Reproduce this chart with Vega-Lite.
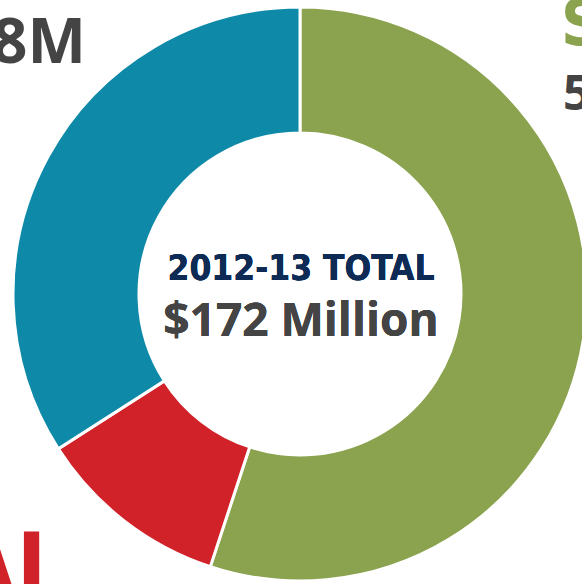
{
  "$schema": "https://vega.github.io/schema/vega-lite/v6.json",
  "width": 564,
  "height": 576,
  "autosize": {"type": "none"},
  "padding": {"left": 18, "top": 6, "right": 0, "bottom": 2},
  "background": "white",
  "view": {"stroke": null},
  "data": {
    "values": [
      {"source": "STATE", "amount": 94.7, "valueLabel": "55%"},
      {"source": "FEDERAL", "amount": 18.7, "valueLabel": "$19M"},
      {"source": "LOCAL", "amount": 58.6, "valueLabel": "$58M"}
    ]
  },
  "transform": [{"window": [{"op": "row_number", "as": "rank"}]}],
  "layer": [
    {
      "mark": {"type": "arc", "radius": 287, "innerRadius": 161, "stroke": "white", "strokeWidth": 3},
      "encoding": {
        "theta": {"field": "amount", "type": "quantitative", "stack": true},
        "order": {"field": "rank", "type": "quantitative"},
        "color": {
          "field": "source",
          "type": "nominal",
          "scale": {"domain": ["STATE", "FEDERAL", "LOCAL"], "range": ["#8BA34E", "#D12229", "#0E8AA8"]},
          "legend": null
        }
      }
    },
    {
      "mark": {"type": "text", "text": "2012-13 TOTAL", "font": "DejaVu Sans Condensed", "fontWeight": "bold", "fontSize": 35, "color": "#0D2B55", "align": "center", "baseline": "alphabetic", "dx": 1, "dy": -14},
      "encoding": {}
    },
    {
      "mark": {"type": "text", "text": "$172 Million", "font": "Open Sans", "fontWeight": "bold", "fontSize": 46, "color": "#444444", "align": "center", "baseline": "alphabetic", "dx": 1, "dy": 42},
      "encoding": {}
    },
    {
      "transform": [{"filter": "datum.source === 'LOCAL'"}],
      "mark": {"type": "text", "font": "Open Sans", "fontWeight": "bold", "fontSize": 62, "color": "#444444", "align": "right", "baseline": "alphabetic", "dx": -214, "dy": -231},
      "encoding": {"text": {"field": "valueLabel"}}
    },
    {
      "transform": [{"filter": "datum.source === 'STATE'"}],
      "mark": {"type": "text", "font": "DejaVu Sans Condensed", "fontWeight": "bold", "fontSize": 64, "color": "#8BA34E", "align": "left", "baseline": "alphabetic", "dx": 261, "dy": -249},
      "encoding": {"text": {"field": "source"}}
    },
    {
      "transform": [{"filter": "datum.source === 'STATE'"}],
      "mark": {"type": "text", "font": "Open Sans", "fontWeight": "bold", "fontSize": 48, "color": "#444444", "align": "left", "baseline": "alphabetic", "dx": 263, "dy": -184},
      "encoding": {"text": {"field": "valueLabel"}}
    },
    {
      "transform": [{"filter": "datum.source === 'FEDERAL'"}],
      "mark": {"type": "text", "font": "DejaVu Sans Condensed", "fontWeight": "bold", "fontSize": 90, "color": "#D12229", "align": "right", "baseline": "alphabetic", "dx": -232, "dy": 304},
      "encoding": {"text": {"field": "source"}}
    }
  ]
}
